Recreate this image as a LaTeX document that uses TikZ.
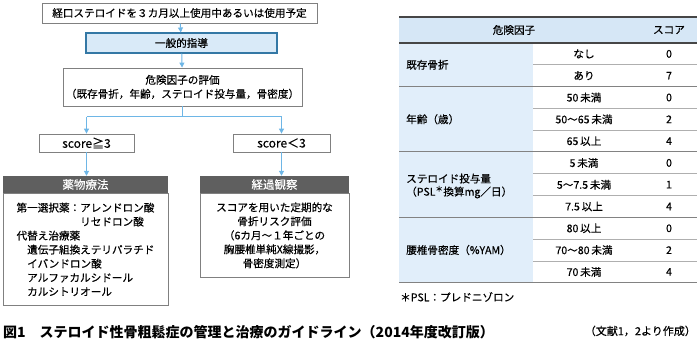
\documentclass[tikz,border=0pt]{standalone}
\usepackage{fontspec}
\setmainfont{Noto Sans CJK JP}[UprightFeatures={FakeBold=0.35}]
\usetikzlibrary{arrows.meta}

\definecolor{arrowblue}{RGB}{110,182,230}
\definecolor{guideblue}{RGB}{217,234,248}
\definecolor{guideline}{RGB}{52,120,165}
\definecolor{headgray}{RGB}{95,95,95}
\definecolor{boxgray}{RGB}{128,128,128}
\definecolor{tabhead}{RGB}{214,231,246}
\definecolor{tabcol}{RGB}{225,238,250}
\definecolor{ruledark}{RGB}{70,70,70}
\definecolor{rulegray}{RGB}{130,130,130}
\definecolor{rulelight}{RGB}{175,175,175}

\begin{document}
\begin{tikzpicture}[
        x=1pt, y=-1pt,
        every node/.style={font=\fontsize{10.6}{14}\selectfont, inner sep=1pt},
        box/.style={
            draw=boxgray,
            fill=white,
            line width=0.8pt,
            minimum height=20pt
        },
        guide/.style={
            draw=guideline,
            fill=guideblue,
            line width=1.1pt,
            minimum height=20pt
        },
        scorebox/.style={
            box,
            minimum height=18pt,
            font=\fontsize{12}{14}\selectfont
        },
        headbox/.style={
            fill=headgray,
            text=white,
            minimum height=17pt,
            font=\fontsize{11.5}{14}\selectfont
        },
        bodybox/.style={
            draw=boxgray,
            fill=white,
            line width=0.8pt,
            anchor=north
        },
        flowline/.style={draw=arrowblue, line width=1pt},
        flow/.style={flowline, -{Triangle[length=5pt,width=5pt]}},
        cell/.style={font=\fontsize{10.6}{13}\selectfont},
        rowlabel/.style={cell, anchor=west, align=left}
    ]
    \useasboundingbox (0,0) rectangle (699,352);

    % Flowchart
    \node[box, minimum width=275pt] (start) at (179.5,13) {経口ステロイドを３カ月以上使用中あるいは使用予定};
    \node[guide, minimum width=191pt] (guide) at (181.5,43) {一般的指導};
    \node[box, minimum width=239pt, minimum height=38pt, align=center] (risk) at (182.5,87)
        {危険因子の評価\\（既存骨折，年齢，ステロイド投与量，骨密度）};
    \draw[flow] (start) -- (guide);
    \draw[flow] (guide) -- (risk);

    \coordinate (fork) at (182.5,117);
    \coordinate (forkl) at (86.5,117);
    \coordinate (forkr) at (281.5,117);

    \node[scorebox, minimum width=95pt] (hi) at (86.5,143) {score≧3};
    \node[scorebox, minimum width=97pt] (lo) at (281.5,143) {score＜3};
    \draw[flowline] (risk) -- (fork);
    \draw[flowline] (forkl) -- (forkr);
    \draw[flow] (forkl) -- (hi);
    \draw[flow] (forkr) -- (lo);

    % drug therapy
    \node[bodybox, minimum width=165pt, minimum height=112pt, align=left] (drugbd) at (85.5,193)
        {第一選択薬：アレンドロン酸\\
         \phantom{第一選択薬：}リセドロン酸\\
         代替え治療薬\\
         \hspace{1em}遺伝子組換えテリパラチド\\
         \hspace{1em}イバンドロン酸\\
         \hspace{1em}アルファカルシドール\\
         \hspace{1em}カルシトリオール};
    \node[headbox, minimum width=165pt] (drughd) at (85.5,184.5) {薬物療法};
    \draw[flow] (hi) -- (hi |- drughd.north);

    % follow-up
    \node[bodybox, minimum width=149pt, minimum height=84pt, align=center] (watchbd) at (274.5,193)
        {スコアを用いた定期的な\\
         骨折リスク評価\\
         （6カ月～１年ごとの\\
         胸腰椎単純X線撮影，\\
         骨密度測定）};
    \node[headbox, minimum width=149pt] (watchhd) at (274.5,184.5) {経過観察};
    \draw[flow] (lo) -- (lo |- watchhd.north);

    % Table
    \fill[tabhead] (399,17) rectangle (697,43);
    \fill[tabcol] (399,43) rectangle (533,282.8);
    \draw[ruledark, line width=1.4pt] (399,17) -- (697,17);
    \draw[ruledark, line width=1.4pt] (399,43) -- (697,43);
    \foreach \r in {2,5,8,11}
        \draw[rulegray, line width=1pt] (399,{43+\r*21.8}) -- (697,{43+\r*21.8});
    \foreach \r in {1,3,4,6,7,9,10}
        \draw[rulelight, line width=0.7pt] (533,{43+\r*21.8}) -- (697,{43+\r*21.8});

    \node[cell] (hdrisk) at (514,30) {危険因子};
    \node[cell] (hdscore) at (669,30) {スコア};

    \foreach \cat/\pt [count=\i] in {なし/0, あり/7,
            50\thinspace 未満/0, 50～65\thinspace 未満/2, 65\thinspace 以上/4,
            5\thinspace 未満/0, 5～7.5\thinspace 未満/1, 7.5\thinspace 以上/4,
            80\thinspace 以上/0, 70～80\thinspace 未満/2, 70\thinspace 未満/4} {
        \node[cell] (cat\i) at (584,{43+(\i-0.5)*21.8}) {\cat};
        \node[cell] (pt\i) at (669,{43+(\i-0.5)*21.8}) {\pt};
    }

    \node[rowlabel] (gfrac) at (405,64.8) {既存骨折};
    \node[rowlabel] (gage) at (405,119.3) {年齢（歳）};
    \node[rowlabel] (gpsl) at (405,186) {ステロイド投与量\\（PSL\textsuperscript{＊}換算mg／日）};
    \node[rowlabel] (gbmd) at (405,250) {腰椎骨密度（\%YAM）};

    \node[cell, anchor=west] (note) at (399,297) {＊PSL：プレドニゾロン};

    % Caption
    \node[anchor=west, font=\fontsize{14}{16}\selectfont\bfseries] (cap) at (2,332)
        {図1\hspace{1em}ステロイド性骨粗鬆症の管理と治療のガイドライン（2014年度改訂版）};
    \node[anchor=east, font=\fontsize{11}{13}\selectfont] (src) at (697,331) {（文献1，2より作成）};

\end{tikzpicture}
\end{document}
